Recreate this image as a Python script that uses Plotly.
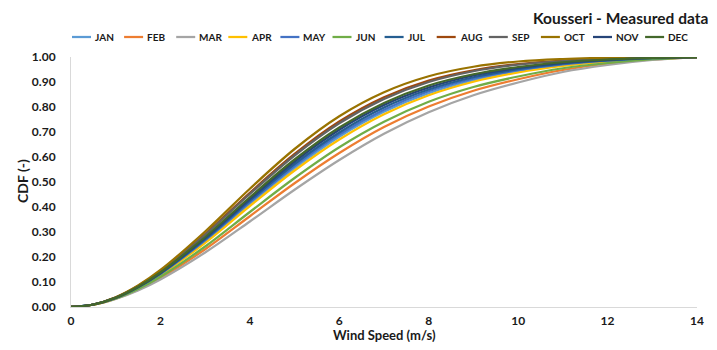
import plotly.graph_objects as go

wind_speed = [0, 0.5, 1, 1.5, 2, 3, 4, 5, 6, 7, 8, 9, 10, 11, 12, 13, 14]

months = ["JAN", "FEB", "MAR", "APR", "MAY", "JUN", "JUL", "AUG", "SEP", "OCT", "NOV", "DEC"]
colors = ["#5B9BD5", "#ED7D31", "#A5A5A5", "#FFC000", "#4472C4", "#70AD47",
          "#255E91", "#9E480E", "#636363", "#997300", "#264478", "#43682B"]

jan = [0, .010, .036, .077, .130, .263, .411, .555, .681, .781, .855, .907, .943, .968, .983, .994, 1.0]
feb = [0, .009, .033, .069, .116, .231, .363, .495, .616, .720, .802, .865, .911, .948, .973, .990, 1.0]
mar = [0, .009, .032, .066, .110, .218, .342, .469, .588, .693, .779, .847, .898, .940, .968, .988, 1.0]
apr = [0, .009, .035, .075, .128, .257, .404, .546, .670, .771, .847, .901, .938, .964, .982, .993, 1.0]
may = [0, .010, .036, .078, .132, .267, .418, .564, .690, .789, .863, .913, .947, .970, .985, .994, 1.0]
jun = [0, .009, .034, .072, .121, .242, .380, .516, .639, .741, .821, .880, .922, .955, .976, .991, 1.0]
jul = [0, .010, .036, .079, .134, .271, .425, .572, .698, .798, .870, .919, .951, .973, .986, .995, 1.0]
aug = [0, .010, .038, .084, .143, .292, .457, .612, .742, .839, .906, .947, .972, .986, .994, .998, 1.0]
sep = [0, .010, .038, .083, .142, .289, .452, .606, .735, .832, .900, .943, .969, .984, .992, .997, 1.0]
octo = [0, .010, .039, .086, .148, .302, .473, .632, .763, .859, .923, .961, .982, .992, .997, .999, 1.0]
nov = [0, .010, .037, .080, .136, .276, .432, .582, .709, .808, .878, .926, .956, .976, .988, .996, 1.0]
dec = [0, .010, .037, .081, .138, .280, .439, .590, .718, .816, .886, .931, .960, .979, .990, .996, 1.0]

series = [jan, feb, mar, apr, may, jun, jul, aug, sep, octo, nov, dec]

x_ticks = [0, 2, 4, 6, 8, 10, 12, 14]
y_ticks = [0.0, 0.1, 0.2, 0.3, 0.4, 0.5, 0.6, 0.7, 0.8, 0.9, 1.0]

title_text = "Kousseri - Measured data"
x_title = "Wind Speed (m/s)"
y_title = "CDF (-)"

FONT = "Lato"
TXT = "#1a1a1a"

fig = go.Figure()
for name, col, vals in zip(months, colors, series):
    fig.add_trace(go.Scatter(
        x=wind_speed, y=vals, name=name, mode="lines",
        line=dict(color=col, width=2.25, shape="spline", smoothing=1.0),
        showlegend=False, cliponaxis=False))

# The page body adds an 8 px offset; work in screen pixels and compensate.
OFF = 8
W, H = 717 - 2 * OFF, 350 - 2 * OFF
plot_l, plot_r, plot_t, plot_b = 71, 697, 57, 307  # screen px
ml = plot_l - OFF
mt = plot_t - OFF
mr = W - (plot_r - OFF)
mb = H - (plot_b - OFF)
pw = plot_r - plot_l
ph = plot_b - plot_t

def sx(px):
    return (px - plot_l) / pw

def sy(py):
    return (plot_b - py) / ph

shapes = []
annotations = []
leg_y = 37
for i, (name, col) in enumerate(zip(months, colors)):
    x0 = 72 + i * 52.1
    shapes.append(dict(type="line", xref="paper", yref="paper",
                       x0=sx(x0), x1=sx(x0 + 19), y0=sy(leg_y), y1=sy(leg_y),
                       line=dict(color=col, width=2.25)))
    annotations.append(dict(text=name, xref="paper", yref="paper",
                            x=sx(x0 + 21), y=sy(leg_y),
                            xanchor="left", yanchor="middle", showarrow=False,
                            font=dict(family=FONT, size=10, color=TXT, weight="bold")))

annotations.append(dict(text=title_text, xref="paper", yref="paper",
                        x=sx(710), y=sy(18),
                        xanchor="right", yanchor="middle", showarrow=False,
                        font=dict(family=FONT, size=15.5, color=TXT, weight="bold")))
annotations.append(dict(text=x_title, xref="paper", yref="paper",
                        x=sx(384), y=sy(335), borderpad=0,
                        xanchor="center", yanchor="middle", showarrow=False,
                        font=dict(family=FONT, size=13, color=TXT, weight="bold")))
annotations.append(dict(text=y_title, xref="paper", yref="paper",
                        x=sx(22), y=sy(181), textangle=-90,
                        xanchor="center", yanchor="middle", showarrow=False,
                        font=dict(family=FONT, size=14, color=TXT, weight="bold")))

fig.update_layout(
    width=W, height=H, autosize=False,
    margin=dict(l=ml, r=mr, t=mt, b=mb, pad=0, autoexpand=False),
    paper_bgcolor="white", plot_bgcolor="white",
    shapes=shapes, annotations=annotations,
    font=dict(family=FONT, color=TXT),
)
fig.update_xaxes(
    range=[0, 14], tickvals=x_ticks, ticktext=[str(v) for v in x_ticks],
    automargin=False,
    showgrid=False, zeroline=False, showline=True, linecolor="#d9d9d9", linewidth=1,
    ticks="", ticklabelstandoff=3,
    tickfont=dict(family=FONT, size=12, color=TXT, weight="bold"))
fig.update_yaxes(
    range=[0, 1], tickvals=y_ticks, tickformat=".2f",
    automargin=False,
    showgrid=False, zeroline=False, showline=True, linecolor="#d9d9d9", linewidth=1,
    ticks="", ticklabelstandoff=12,
    tickfont=dict(family=FONT, size=12, color=TXT, weight="bold"))

fig.write_html("out.html")
